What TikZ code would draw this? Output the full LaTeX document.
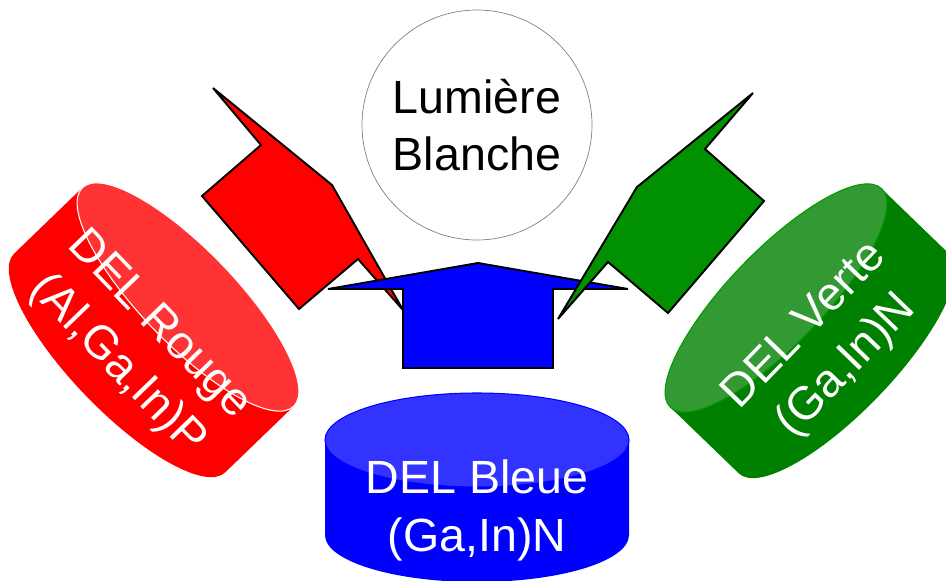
\documentclass[tikz,border=0pt]{standalone}
\usepackage{fontspec}
\setmainfont{Liberation Sans}
\begin{document}
\begin{tikzpicture}[x=0.02cm,y=0.02cm,
  arrowshape/.style={draw=black,line width=1.1pt,line join=miter},
  ledtext/.style={text=white,align=center,font=\fontsize{26.5}{33}\selectfont},
  ringtext/.style={text=black,align=center,font=\fontsize{26.5}{32}\selectfont}]
\useasboundingbox (0,0) rectangle (946,-581);
\definecolor{rbody}{RGB}{255,0,0}
\definecolor{rtop}{RGB}{255,51,51}
\definecolor{bbody}{RGB}{0,0,255}
\definecolor{btop}{RGB}{51,51,255}
\definecolor{gbody}{RGB}{0,128,0}
\definecolor{gtop}{RGB}{51,153,51}
\definecolor{redarrow}{RGB}{255,0,0}
\definecolor{bluearrow}{RGB}{0,0,255}
\definecolor{greenarrow}{RGB}{0,144,0}
% White light circle
\node[circle,draw=gray,line width=0.4pt,minimum size=230*0.02cm,ringtext] (light) at (477,-125) {Lumière\\Blanche};
% Red cylinder
\begin{scope}[shift={(188,-297)},rotate=-46]
  \fill[rbody] (-152,0) -- (-152,-95) arc[start angle=180,end angle=360,x radius=152,y radius=47] -- (152,0) -- cycle;
  \fill[rtop] (0,0) ellipse[x radius=152,y radius=47];
  \draw[white,line width=0.6pt] (0,0) ellipse[x radius=152,y radius=47];
  \node[ledtext,rotate=-46] (red) at (0,-70) {DEL Rouge\\(Al,Ga,In)P};
\end{scope}
% Blue cylinder
\begin{scope}[shift={(477,-440)}]
  \fill[bbody] (-152,0) -- (-152,-95) arc[start angle=180,end angle=360,x radius=152,y radius=47] -- (152,0) -- cycle;
  \fill[btop] (0,0) ellipse[x radius=152,y radius=47];
  \draw[bbody,line width=0.6pt] (0,0) ellipse[x radius=152,y radius=47];
  \node[ledtext] (blue) at (0,-70) {DEL Bleue\\(Ga,In)N};
\end{scope}
% Green cylinder
\begin{scope}[shift={(776,-298)},rotate=46]
  \fill[gbody] (-152,0) -- (-152,-95) arc[start angle=180,end angle=360,x radius=152,y radius=47] -- (152,0) -- cycle;
  \fill[gtop] (0,0) ellipse[x radius=152,y radius=47];
  \draw[gbody!80!green,line width=0.6pt] (0,0) ellipse[x radius=152,y radius=47];
  \node[ledtext,rotate=46] (green) at (0,-70) {DEL Verte\\(Ga,In)N};
\end{scope}
% Red arrow
\draw[arrowshape,fill=redarrow] (213,-88) -- (261,-145) -- (202,-196) -- (299,-309) -- (358,-259) -- (403,-310) -- (332,-185) -- cycle;
% Blue arrow
\draw[arrowshape,fill=bluearrow] (478,-263) -- (628,-289) -- (553,-289) -- (553,-368) -- (403,-368) -- (403,-289) -- (328,-289) -- cycle;
% Green arrow
\draw[arrowshape,fill=greenarrow] (753,-93) -- (705,-149) -- (764,-201) -- (668,-313) -- (608,-262) -- (558,-319) -- (637,-187) -- cycle;
\end{tikzpicture}
\end{document}
